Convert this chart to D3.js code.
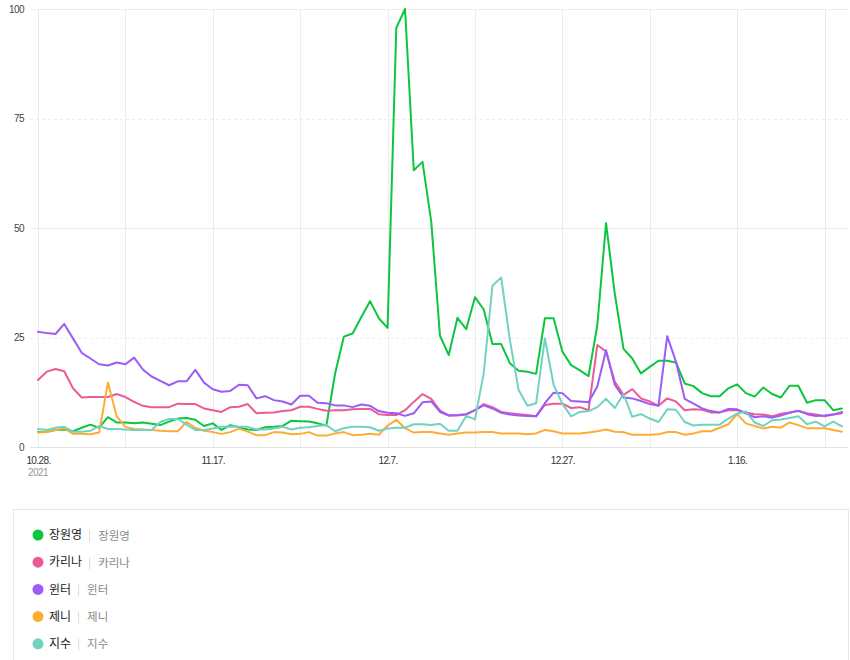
<!DOCTYPE html>
<html>
<head>
<meta charset="utf-8">
<script src="https://cdn.jsdelivr.net/npm/d3@7"></script>
<style>
  html, body { margin: 0; padding: 0; background: #fff; }
  svg { display: block; font-family: "Noto Sans CJK KR", "Noto Sans", sans-serif; }
</style>
</head>
<body>
<svg id="chart" width="850" height="660"></svg>
<script>
// ---------- data ----------
const startDate = "2021-10-28";
const endDate = "2022-01-28";
const seriesNames = ["장원영", "카리나", "윈터", "제니", "지수"];
const seriesColors = ["#0cc63f", "#ec5a97", "#9b5cf8", "#ffac35", "#70d3c2"];

const wonyoung = [3.4,3.5,3.9,4.0,3.6,4.4,5.1,4.4,6.8,5.6,5.6,5.4,5.6,5.3,5.0,5.8,6.5,6.6,6.2,4.8,
  5.4,3.9,5.0,4.5,4.0,3.9,4.5,4.6,4.8,6.0,5.9,5.8,5.4,4.9,16.8,25.2,25.9,29.7,33.3,29.4,
  27.2,95.7,100,63.2,65.1,51.4,25.4,21.0,29.5,26.9,34.2,31.4,23.5,23.5,19.1,17.4,17.2,16.7,29.4,29.4,
  21.8,18.7,17.5,16.2,27.8,51.1,35.0,22.4,20.2,16.8,18.3,19.7,19.7,19.3,14.5,13.9,12.3,11.6,11.6,13.4,
  14.3,12.3,11.5,13.6,12.1,11.3,14.0,14.0,10.1,10.7,10.7,8.4,8.8];
const karina = [15.3,17.2,17.8,17.3,13.4,11.3,11.4,11.4,11.4,12.1,11.4,10.3,9.4,9.1,9.1,9.1,9.9,9.8,9.8,8.8,
  8.4,8.0,9.1,9.2,9.8,7.7,7.8,7.9,8.2,8.4,9.2,9.2,8.7,8.3,8.4,8.4,8.6,8.7,8.7,7.5,
  7.3,7.3,8.4,10.3,12.1,11.0,8.3,7.2,7.2,7.4,8.4,9.8,9.1,8.0,7.7,7.5,7.3,7.0,9.6,9.9,
  9.9,8.9,9.1,8.4,23.3,21.8,14.9,11.9,13.2,11.1,10.4,9.4,11.1,10.4,8.4,8.6,8.5,7.9,7.9,8.4,
  8.4,7.9,7.5,7.4,7.0,7.6,7.9,8.2,7.7,7.4,7.0,7.4,7.7];
const winter = [26.3,26.0,25.8,28.1,24.8,21.5,20.2,18.9,18.6,19.3,18.9,20.4,17.7,16.1,15.1,14.1,15.0,15.0,17.6,14.7,
  13.2,12.6,12.8,14.2,14.1,11.1,11.6,10.7,10.4,9.7,11.7,11.7,10.1,10.0,9.5,9.5,9.1,9.7,9.4,8.2,
  7.8,7.7,7.1,7.7,10.2,10.4,8.0,7.2,7.3,7.5,8.4,9.5,8.8,7.8,7.4,7.2,7.1,7.0,10.0,12.4,
  12.3,10.5,10.4,10.2,13.8,22.1,14.2,11.3,11.1,10.5,9.8,9.4,25.3,19.5,11.0,9.9,8.8,8.2,7.9,8.7,
  8.6,7.7,6.8,7.0,6.7,7.2,7.8,8.3,7.5,7.1,7.2,7.4,8.0];
const jennie = [3.3,3.4,3.9,4.3,3.0,3.0,2.9,3.3,14.7,7.0,4.6,4.1,4.0,3.9,3.7,3.6,3.6,5.7,4.4,3.7,
  3.4,3.0,3.4,4.2,3.5,2.7,2.7,3.4,3.3,2.9,3.0,3.4,2.6,2.6,3.1,3.4,2.7,2.8,3.0,2.8,
  4.9,6.2,4.3,3.3,3.4,3.4,3.1,2.8,3.1,3.3,3.3,3.4,3.4,3.1,3.1,3.1,2.9,3.1,3.9,3.6,
  3.1,3.1,3.1,3.3,3.6,4.0,3.5,3.4,2.8,2.8,2.8,2.9,3.4,3.4,2.8,3.1,3.6,3.6,4.4,5.2,
  7.5,5.4,4.8,4.2,4.6,4.4,5.6,5.0,4.3,4.3,4.3,3.9,3.5];
const jisoo = [4.1,3.9,4.4,4.6,3.5,3.5,3.7,4.8,4.1,4.1,4.0,3.9,3.9,3.9,5.7,6.4,6.4,5.1,3.9,3.9,
  4.2,4.6,4.7,4.6,4.6,4.0,4.0,4.2,4.6,4.0,4.4,4.5,4.8,5.0,3.6,4.3,4.6,4.6,4.5,3.7,
  4.2,4.4,4.4,5.2,5.2,5.0,5.3,3.7,3.7,7.1,6.3,16.8,36.8,38.7,24.4,13.0,9.4,10.0,24.8,14.2,
  9.9,7.0,8.0,8.2,9.1,11.0,8.9,12.1,6.9,7.5,6.5,5.7,8.6,8.5,5.7,4.9,5.1,5.1,5.1,6.5,
  7.6,8.1,5.6,4.8,6.1,6.3,6.6,7.0,5.2,5.8,4.7,5.8,4.7];

const yTicks = [0, 25, 50, 75, 100];
const xTickDates = ["2021-10-28", "2021-11-17", "2021-12-07", "2021-12-27", "2022-01-16"];
const xTickLabels = ["10.28.", "11.17.", "12.7.", "12.27.", "1.16."];
const yearLabel = "2021";

// ---------- build ----------
const parse = d3.timeParse("%Y-%m-%d");
const dates = d3.timeDay.range(parse(startDate), d3.timeDay.offset(parse(endDate), 1));
const seriesValues = [wonyoung, karina, winter, jennie, jisoo];
const series = seriesNames.map((name, k) => ({
  name, color: seriesColors[k],
  points: seriesValues[k].map((v, i) => ({ date: dates[i], value: v }))
}));

const svg = d3.select("#chart");
const x = d3.scaleTime().domain([parse(startDate), parse(endDate)]).range([38, 842]);
const y = d3.scaleLinear().domain([0, 100]).range([447, 9]);

const plotLeft = 30, plotRight = 848;

// vertical gridlines every 10 days
const gridDates = dates.filter((d, i) => i % 10 === 0);
svg.append("g").selectAll("line").data(gridDates).join("line")
  .attr("x1", d => Math.round(x(d)) + 0.5).attr("x2", d => Math.round(x(d)) + 0.5)
  .attr("y1", y(100)).attr("y2", y(0))
  .attr("stroke", "#ececec").attr("stroke-width", 1);

// horizontal gridlines
svg.append("g").selectAll("line").data(yTicks).join("line")
  .attr("x1", plotLeft).attr("x2", plotRight)
  .attr("y1", d => Math.round(y(d)) + 0.5).attr("y2", d => Math.round(y(d)) + 0.5)
  .attr("stroke", d => d === 0 ? "#e2e2e2" : "#ececec")
  .attr("stroke-width", 1)
  .attr("stroke-dasharray", d => (d === 25 || d === 75) ? "3,3" : null);

// y axis labels
const yAxis = d3.axisLeft(y).tickValues(yTicks).tickSize(0).tickPadding(0);
const gy = svg.append("g").attr("transform", "translate(24,0)").call(yAxis);
gy.select(".domain").remove();
gy.selectAll("text").attr("fill", "#444").style("font-size", "10px")
  .style("letter-spacing", "-0.6px").style("font-family", "'Liberation Sans', sans-serif");

// x axis labels
const xAxis = d3.axisBottom(x).tickValues(xTickDates.map(parse))
  .tickFormat((d, i) => xTickLabels[i]).tickSize(0).tickPadding(0);
const gx = svg.append("g").attr("transform", "translate(0,457)").call(xAxis);
gx.select(".domain").remove();
gx.selectAll("text").attr("fill", "#333").style("font-size", "10px").attr("dy", "0.71em")
  .style("letter-spacing", "-0.6px").style("font-family", "'Liberation Sans', sans-serif");
svg.append("text").attr("x", x(parse(startDate))).attr("y", 476)
  .attr("text-anchor", "middle").attr("fill", "#999")
  .style("font-size", "10px").style("letter-spacing", "-0.5px")
  .style("font-family", "'Liberation Sans', sans-serif").text(yearLabel);

// lines
const line = d3.line().x(d => x(d.date)).y(d => y(d.value));
svg.append("g").selectAll("path").data(series).join("path")
  .attr("d", d => line(d.points))
  .attr("fill", "none")
  .attr("stroke", d => d.color)
  .attr("stroke-width", 2)
  .attr("stroke-linejoin", "round")
  .attr("stroke-linecap", "round");

// legend box
svg.append("rect").attr("x", 13.5).attr("y", 509.5).attr("width", 835).attr("height", 160)
  .attr("fill", "none").attr("stroke", "#e6e6e6");

const lg = svg.append("g").selectAll("g").data(series).join("g")
  .attr("transform", (d, i) => `translate(38,${535 + i * 27.2})`);
lg.append("circle").attr("r", 5.5).attr("fill", d => d.color);
lg.each(function(d) {
  const g = d3.select(this);
  const t1 = g.append("text").attr("x", 11).attr("dy", "0.35em")
    .attr("fill", "#222").style("font-size", "12px").style("font-weight", "400").text(d.name);
  const w = t1.node().getComputedTextLength();
  g.append("line").attr("x1", 11 + w + 7.5).attr("x2", 11 + w + 7.5)
    .attr("y1", -5).attr("y2", 7).attr("stroke", "#dcdcdc");
  g.append("text").attr("x", 11 + w + 16).attr("dy", "0.4em")
    .attr("fill", "#888").style("font-size", "11.5px").text(d.name);
});
</script>
</body>
</html>
